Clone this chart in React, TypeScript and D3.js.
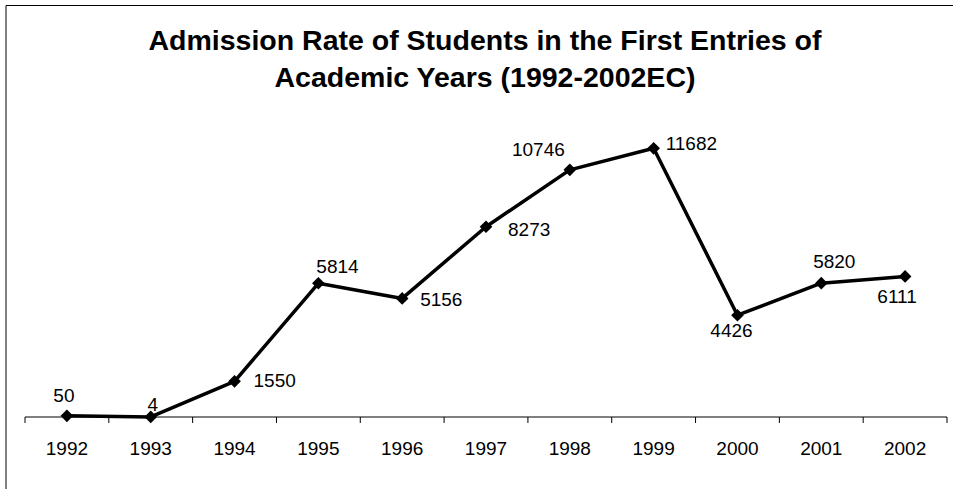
import React from "react";
import * as d3 from "d3";

const years = ["1992", "1993", "1994", "1995", "1996", "1997", "1998", "1999", "2000", "2001", "2002"];
const admitted = [50, 4, 1550, 5814, 5156, 8273, 10746, 11682, 4426, 5820, 6111];
const titleLines = ["Admission Rate of Students in the First Entries of", "Academic Years (1992-2002EC)"];

// where each value label sits relative to its marker: [dx, dy, anchor]
const labelPlacement: [number, number, string][] = [
  [-3, -14, "middle"],
  [2, -6, "middle"],
  [19, 6, "start"],
  [-2, -10, "start"],
  [18, 8, "start"],
  [22, 9, "start"],
  [-5, -14, "end"],
  [12, 2, "start"],
  [-6, 22, "middle"],
  [13, -15, "middle"],
  [-8, 27, "middle"],
];

const width = 953;
const height = 489;
const font = "'Liberation Sans', Arial, sans-serif";

const App = () => {
  const x = d3.scaleBand().domain(years).range([25, 947]);
  const y = d3.scaleLinear().domain([0, 14000]).range([417, 95]);
  const cx = (yr: string) => (x(yr) as number) + x.bandwidth() / 2;

  const line = d3
    .line<number>()
    .x((_, i) => cx(years[i]))
    .y((d) => y(d));

  const ticks = years.map((yr) => x(yr) as number).concat([x.range()[1]]);
  const marker = d3.symbol(d3.symbolSquare, 80)();

  return (
    <svg width={width} height={height} style={{ position: "absolute", left: 0, top: 0 }}>
      <rect width={width} height={height} fill="#fff" />
      <path d={`M6,${height} V5.5 H${width}`} fill="none" stroke="#000" strokeWidth={1} />

      {titleLines.map((t, i) => (
        <text
          key={i}
          x={485}
          y={50 + i * 37}
          textAnchor="middle"
          fontFamily={font}
          fontWeight="bold"
          fontSize={28.5}
        >
          {t}
        </text>
      ))}

      <line x1={x.range()[0]} x2={x.range()[1]} y1={y(0)} y2={y(0)} stroke="#000" />
      {ticks.map((t, i) => (
        <line key={i} x1={t} x2={t} y1={y(0)} y2={y(0) + 6} stroke="#000" />
      ))}
      {years.map((yr) => (
        <text key={yr} x={cx(yr)} y={455} textAnchor="middle" fontFamily={font} fontSize={19}>
          {yr}
        </text>
      ))}

      <path d={line(admitted) as string} fill="none" stroke="#000" strokeWidth={3.5} strokeLinejoin="round" />
      {admitted.map((v, i) => (
        <path
          key={i}
          d={marker as string}
          transform={`translate(${cx(years[i])},${y(v)}) rotate(45)`}
          fill="#000"
        />
      ))}
      {admitted.map((v, i) => {
        const [dx, dy, anchor] = labelPlacement[i];
        return (
          <text
            key={i}
            x={cx(years[i]) + dx}
            y={y(v) + dy}
            textAnchor={anchor}
            fontFamily={font}
            fontSize={19}
          >
            {v}
          </text>
        );
      })}
    </svg>
  );
};

export default App;
